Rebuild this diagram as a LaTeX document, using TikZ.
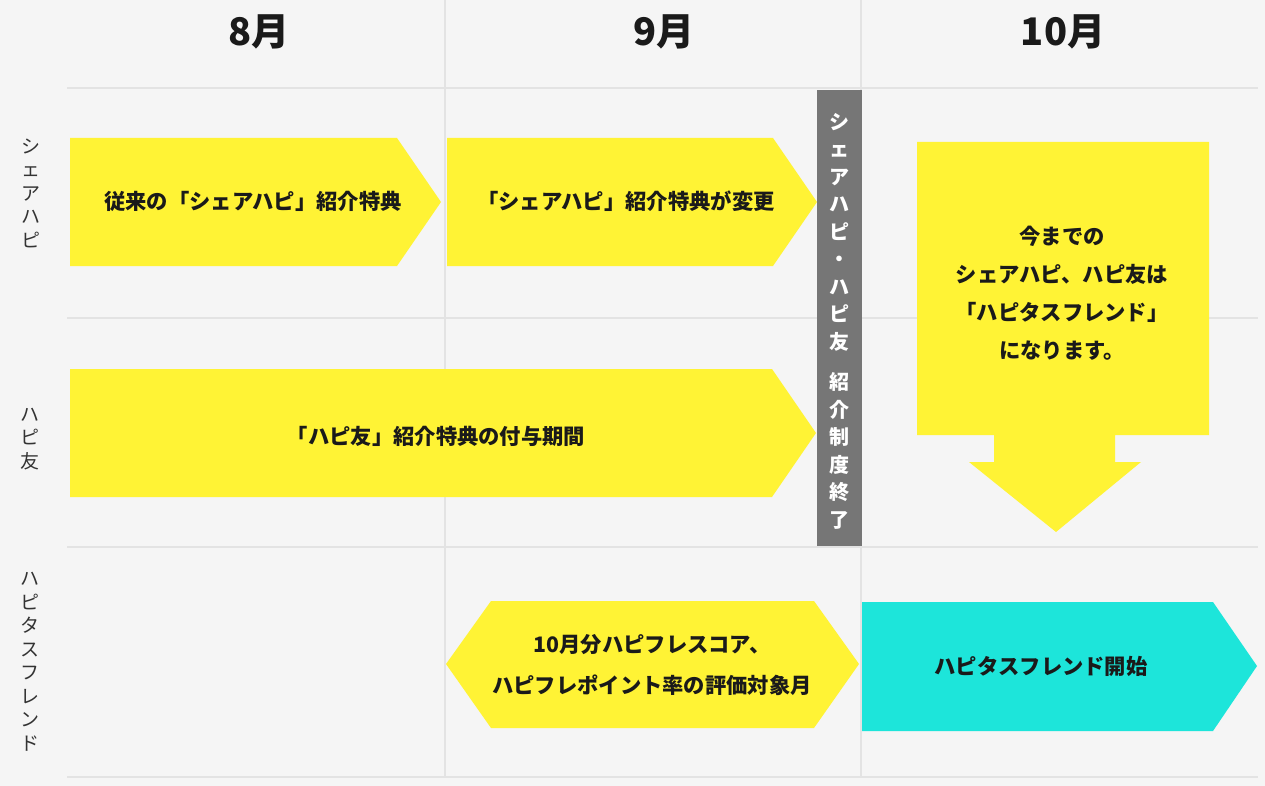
\documentclass[tikz,border=0pt]{standalone}
\usepackage{fontspec}
\setmainfont{Noto Sans CJK JP}
\definecolor{bg}{HTML}{F5F5F5}
\definecolor{gridc}{HTML}{E3E3E3}
\definecolor{ylw}{HTML}{FFF335}
\definecolor{cyn}{HTML}{1DE5DA}
\definecolor{barc}{HTML}{767676}
\definecolor{ink}{HTML}{1A1A1A}
\definecolor{lbl}{HTML}{333333}
\begin{document}
\begin{tikzpicture}[x=1pt,y=-1pt,
  gridline/.style={draw=gridc, line width=2.5pt},
  yshape/.style={fill=ylw},
  cshape/.style={fill=cyn},
  boxtext/.style={font=\fontsize{21.3}{38}\selectfont\bfseries, text=ink, align=center, inner sep=0pt},
  month/.style={font=\fontsize{38}{38}\selectfont\bfseries, text=ink, inner sep=0pt},
  rowlabel/.style={font=\fontsize{19}{23.5}\selectfont, text=lbl, align=center, inner sep=0pt},
  bartext/.style={font=\fontsize{20}{27.5}\selectfont\bfseries, text=white, align=center, inner sep=0pt}]

\fill[bg] (0,0) rectangle (1265,786);
\useasboundingbox (0,0) rectangle (1265,786);

% grid
\draw[gridline] (67,88) -- (1258,88);
\draw[gridline] (67,318) -- (1258,318);
\draw[gridline] (67,547) -- (1258,547);
\draw[gridline] (67,777) -- (1258,777);
\draw[gridline] (445,0) -- (445,777);
\draw[gridline] (861,0) -- (861,777);

% month headers
\node[month] (m8) at (259,32) {8月};
\node[month] (m9) at (664,32) {9月};
\node[month] (m10) at (1063,32) {10月};

% row labels
\node[rowlabel] (r1) at (31,193) {シ\\ェ\\ア\\ハ\\ピ};
\node[rowlabel] (r2) at (30,439) {ハ\\ピ\\友};
\node[rowlabel] (r3) at (30,662) {ハ\\ピ\\タ\\ス\\フ\\レ\\ン\\ド};

% shapes
\fill[yshape] (70,138) -- (397,138) -- (441,202) -- (397,266) -- (70,266) -- cycle;
\fill[yshape] (447,138) -- (773,138) -- (817,202) -- (773,266) -- (447,266) -- cycle;
\fill[yshape] (70,369) -- (772,369) -- (816,433) -- (772,497) -- (70,497) -- cycle;
\fill[yshape] (446,664) -- (491,601) -- (814,601) -- (859,664) -- (814,728) -- (491,728) -- cycle;
\fill[cshape] (862,602) -- (1213,602) -- (1257,666) -- (1213,731) -- (862,731) -- cycle;
\fill[yshape] (917,142) -- (1209,142) -- (1209,435) -- (1115,435) -- (1115,462) -- (1141,462)
  -- (1056,532) -- (969,462) -- (994,462) -- (994,435) -- (917,435) -- cycle;
\fill[barc] (817,90) rectangle (862,546);

% texts
\node[boxtext] (t1) at (253,201) {従来の「シェアハピ」紹介特典};
\node[boxtext] (t2) at (626,201) {「シェアハピ」紹介特典が変更};
\node[boxtext] (t3) at (436,436) {「ハピ友」紹介特典の付与期間};
\node[boxtext] (t4) at (1062,293) {今までの\\シェアハピ、ハピ友は\\「ハピタスフレンド」\\になります。};
\node[boxtext, font=\fontsize{21.3}{41}\selectfont\bfseries] (t5) at (652,665) {10月分ハピフレスコア、\\ハピフレポイント率の評価対象月};
\node[boxtext] (t6) at (1041,666) {ハピタスフレンド開始};
\node[bartext] (bt) at (839,321) {シ\\ェ\\ア\\ハ\\ピ\\・\\ハ\\ピ\\友\\[13pt]紹\\介\\制\\度\\終\\了};
\end{tikzpicture}
\end{document}
